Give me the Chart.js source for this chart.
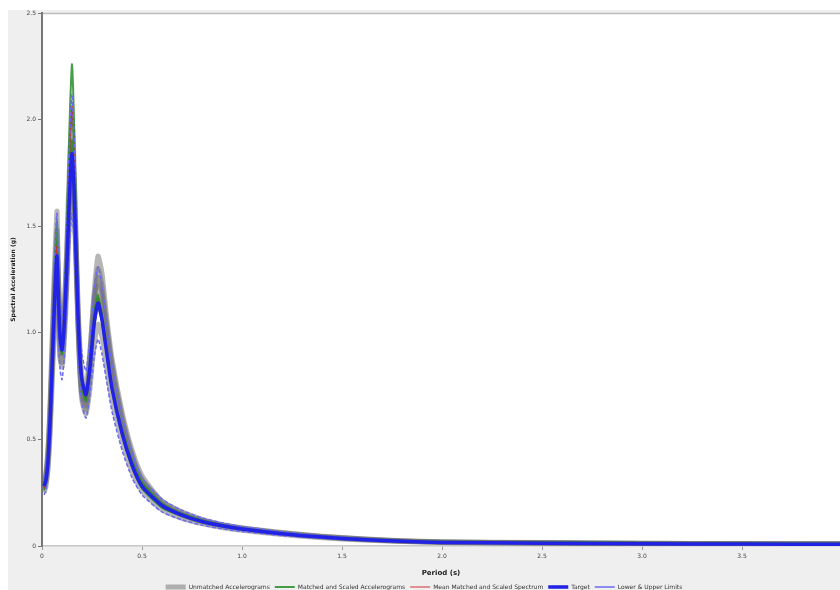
<!DOCTYPE html>
<html>
<head>
<meta charset="utf-8">
<script src="https://cdn.jsdelivr.net/npm/chart.js@4.4.1/dist/chart.umd.min.js"></script>
<style>
  html, body { margin: 0; padding: 0; background: #ffffff; overflow: hidden; }
  #wrap { width: 840px; height: 600px; position: relative; }
</style>
</head>
<body>
<div id="wrap"><canvas id="spectraChart"></canvas></div>
<script>
// periods (s)
const periods = [0.01, 0.02, 0.03, 0.04, 0.05, 0.06, 0.07, 0.075, 0.08, 0.09,
  0.10, 0.11, 0.12, 0.13, 0.14, 0.15, 0.16, 0.17, 0.18, 0.19, 0.20,
  0.22, 0.24, 0.26, 0.28, 0.30, 0.32, 0.35, 0.40, 0.45, 0.50,
  0.60, 0.70, 0.80, 0.90, 1.00, 1.20, 1.40, 1.60, 1.80, 2.00, 2.50, 3.00, 3.50, 4.00];

// unmatched accelerograms (g)
const unmatched1 = [0.30, 0.35, 0.46, 0.66, 0.95, 1.25, 1.48, 1.57, 1.35, 1.05, 0.96, 1.08, 1.30, 1.58, 1.85, 2.00, 1.80, 1.45, 1.10, 0.85, 0.72, 0.66, 0.90, 1.18, 1.36, 1.28, 1.10, 0.88, 0.63, 0.45, 0.33, 0.21, 0.16, 0.125, 0.10, 0.085, 0.062, 0.045, 0.033, 0.024, 0.019, 0.015, 0.013, 0.011, 0.010];
const unmatched2 = [0.25, 0.28, 0.36, 0.52, 0.74, 0.98, 1.18, 1.24, 1.10, 0.88, 0.84, 0.94, 1.12, 1.36, 1.60, 1.75, 1.62, 1.32, 1.02, 0.80, 0.68, 0.62, 0.74, 0.94, 1.04, 0.98, 0.86, 0.69, 0.50, 0.35, 0.26, 0.17, 0.13, 0.105, 0.087, 0.074, 0.054, 0.039, 0.028, 0.021, 0.016, 0.013, 0.011, 0.009, 0.008];
const unmatched3 = [0.28, 0.32, 0.42, 0.61, 0.86, 1.12, 1.34, 1.40, 1.28, 1.05, 1.00, 1.10, 1.28, 1.52, 1.76, 1.90, 1.74, 1.44, 1.14, 0.92, 0.80, 0.74, 0.92, 1.16, 1.26, 1.18, 1.04, 0.84, 0.59, 0.42, 0.31, 0.21, 0.155, 0.12, 0.10, 0.085, 0.063, 0.046, 0.034, 0.025, 0.020, 0.016, 0.013, 0.011, 0.010];
const unmatched4 = [0.27, 0.30, 0.38, 0.55, 0.80, 1.04, 1.25, 1.32, 1.15, 0.90, 0.86, 0.98, 1.20, 1.46, 1.72, 1.86, 1.70, 1.38, 1.05, 0.82, 0.70, 0.64, 0.82, 1.08, 1.22, 1.14, 0.98, 0.77, 0.55, 0.39, 0.29, 0.19, 0.145, 0.115, 0.094, 0.080, 0.058, 0.042, 0.030, 0.022, 0.018, 0.014, 0.012, 0.010, 0.009];
const unmatched5 = [0.29, 0.34, 0.44, 0.63, 0.90, 1.18, 1.40, 1.48, 1.32, 1.00, 0.90, 1.00, 1.18, 1.42, 1.68, 1.82, 1.66, 1.36, 1.06, 0.84, 0.72, 0.68, 0.86, 1.12, 1.30, 1.22, 1.06, 0.85, 0.61, 0.43, 0.31, 0.20, 0.15, 0.12, 0.098, 0.082, 0.060, 0.044, 0.032, 0.023, 0.018, 0.015, 0.012, 0.010, 0.009];

// matched and scaled accelerograms (g)
const matched1 = [0.27, 0.30, 0.41, 0.60, 0.86, 1.12, 1.36, 1.42, 1.20, 0.95, 0.90, 1.05, 1.35, 1.70, 2.05, 2.26, 2.00, 1.55, 1.15, 0.90, 0.78, 0.70, 0.84, 1.06, 1.16, 1.08, 0.94, 0.74, 0.54, 0.39, 0.29, 0.19, 0.15, 0.12, 0.10, 0.082, 0.060, 0.044, 0.032, 0.024, 0.019, 0.016, 0.014, 0.012, 0.010];
const matched2 = [0.29, 0.33, 0.43, 0.62, 0.88, 1.18, 1.45, 1.52, 1.30, 1.02, 0.95, 1.00, 1.25, 1.55, 1.88, 2.05, 1.85, 1.45, 1.10, 0.86, 0.74, 0.68, 0.86, 1.08, 1.18, 1.08, 0.95, 0.75, 0.55, 0.40, 0.30, 0.20, 0.15, 0.12, 0.098, 0.083, 0.061, 0.045, 0.033, 0.025, 0.020, 0.017, 0.015, 0.013, 0.011];
const matched3 = [0.26, 0.30, 0.38, 0.55, 0.78, 1.02, 1.22, 1.28, 1.15, 0.95, 0.92, 1.03, 1.20, 1.45, 1.72, 1.90, 1.75, 1.42, 1.10, 0.88, 0.76, 0.72, 0.82, 1.02, 1.12, 1.05, 0.92, 0.74, 0.53, 0.37, 0.27, 0.18, 0.14, 0.11, 0.092, 0.078, 0.057, 0.041, 0.030, 0.022, 0.018, 0.015, 0.013, 0.011, 0.010];

// mean of matched spectra (g)
const meanMatched = [0.27, 0.31, 0.41, 0.59, 0.84, 1.11, 1.34, 1.41, 1.22, 0.97, 0.92, 1.03, 1.27, 1.57, 1.88, 2.07, 1.87, 1.47, 1.12, 0.88, 0.76, 0.70, 0.84, 1.05, 1.15, 1.07, 0.94, 0.74, 0.54, 0.39, 0.29, 0.19, 0.147, 0.117, 0.097, 0.081, 0.059, 0.043, 0.032, 0.024, 0.019, 0.016, 0.014, 0.012, 0.010];

// target spectrum and its limits (g)
const target = [0.28, 0.31, 0.40, 0.58, 0.82, 1.08, 1.30, 1.36, 1.22, 0.98, 0.92, 1.02, 1.22, 1.46, 1.70, 1.84, 1.68, 1.38, 1.08, 0.88, 0.78, 0.71, 0.84, 1.04, 1.14, 1.06, 0.93, 0.74, 0.53, 0.38, 0.28, 0.19, 0.145, 0.115, 0.095, 0.080, 0.058, 0.042, 0.030, 0.022, 0.017, 0.013, 0.011, 0.009, 0.008];
const upperLimit = [0.32, 0.36, 0.46, 0.67, 0.94, 1.24, 1.50, 1.56, 1.40, 1.13, 1.06, 1.17, 1.40, 1.68, 1.96, 2.12, 1.93, 1.59, 1.24, 1.01, 0.90, 0.82, 0.97, 1.20, 1.31, 1.22, 1.07, 0.85, 0.61, 0.44, 0.32, 0.22, 0.167, 0.132, 0.109, 0.092, 0.067, 0.048, 0.035, 0.025, 0.020, 0.015, 0.013, 0.010, 0.009];
const lowerLimit = [0.24, 0.26, 0.34, 0.49, 0.70, 0.92, 1.10, 1.16, 1.04, 0.83, 0.78, 0.87, 1.04, 1.24, 1.45, 1.56, 1.43, 1.17, 0.92, 0.75, 0.66, 0.60, 0.71, 0.88, 0.97, 0.90, 0.79, 0.63, 0.45, 0.32, 0.24, 0.16, 0.123, 0.098, 0.081, 0.068, 0.049, 0.036, 0.026, 0.019, 0.014, 0.011, 0.009, 0.008, 0.007];

const xTicks = [0, 0.5, 1, 1.5, 2, 2.5, 3, 3.5];
const yTicks = [0, 0.5, 1, 1.5, 2, 2.5];

const toPoints = (vals) => vals.map((v, i) => ({ x: periods[i], y: v }));

function line(label, vals, color, width, order, extra) {
    return Object.assign({
        label: label,
        data: toPoints(vals),
        borderColor: color,
        backgroundColor: color,
        borderWidth: width,
        pointRadius: 0,
        tension: 0.2,
        fill: false,
        order: order
    }, extra || {});
}

const grayCol = "rgba(110, 110, 110, 0.5)";
const greenCol = "rgba(40, 140, 40, 0.85)";

const datasets = [
    line("Unmatched Accelerograms", unmatched1, grayCol, 5, 6),
    line("u2", unmatched2, grayCol, 5, 6, { hideLegend: true }),
    line("u3", unmatched3, grayCol, 5, 6, { hideLegend: true }),
    line("u4", unmatched4, grayCol, 5, 6, { hideLegend: true }),
    line("u5", unmatched5, grayCol, 5, 6, { hideLegend: true }),
    line("Matched and Scaled Accelerograms", matched1, greenCol, 2, 5),
    line("m2", matched2, greenCol, 2, 5, { hideLegend: true }),
    line("m3", matched3, greenCol, 2, 5, { hideLegend: true }),
    line("Mean Matched and Scaled Spectrum", meanMatched, "#d03030", 1, 4),
    line("Target", target, "#2222e6", 3.5, 2),
    line("Lower & Upper Limits", upperLimit, "#6a6af2", 1.5, 3, { borderDash: [4, 2] }),
    line("lower", lowerLimit, "#6a6af2", 1.5, 3, { borderDash: [4, 2], hideLegend: true })
];

const backdrop = {
    id: "backdrop",
    beforeDraw(chart) {
        const { ctx, chartArea: a } = chart;
        ctx.save();
        ctx.fillStyle = "#ffffff";
        ctx.fillRect(0, 0, chart.width, chart.height);
        ctx.fillStyle = "#efefef";
        ctx.fillRect(8, 10, chart.width - 8, chart.height - 10);
        ctx.fillStyle = "#ffffff";
        ctx.fillRect(a.left, a.top, a.right - a.left, a.bottom - a.top);
        ctx.strokeStyle = "#bdbdbd";
        ctx.lineWidth = 1.5;
        ctx.beginPath();
        ctx.moveTo(a.left, a.top + 0.5);
        ctx.lineTo(a.right, a.top + 0.5);
        ctx.stroke();
        ctx.restore();
    }
};

const ctx = document.getElementById("spectraChart").getContext("2d");
new Chart(ctx, {
    type: "line",
    data: { datasets: datasets },
    plugins: [backdrop],
    options: {
        responsive: true,
        maintainAspectRatio: false,
        animation: false,
        layout: { padding: { left: 8, top: 13, right: 0, bottom: 0 } },
        plugins: {
            tooltip: { enabled: false },
            legend: {
                position: "bottom",
                labels: {
                    font: { size: 6, family: "DejaVu Sans" },
                    color: "#333",
                    usePointStyle: true,
                    pointStyle: "line",
                    pointStyleWidth: 20,
                    boxWidth: 20,
                    boxHeight: 6,
                    padding: 5,
                    filter: (item, data) => !data.datasets[item.datasetIndex].hideLegend,
                    sort: (a, b) => a.datasetIndex - b.datasetIndex
                }
            }
        },
        scales: {
            x: {
                type: "linear",
                min: 0,
                max: 3.99,
                afterBuildTicks: (scale) => { scale.ticks = xTicks.map(v => ({ value: v })); },
                afterFit: (scale) => { scale.height = 33; },
                ticks: { font: { size: 6, family: "DejaVu Sans" }, color: "#444", padding: 3 },
                grid: { drawOnChartArea: false, tickLength: 4, color: "#999" },
                border: { color: "#c8c8c8", width: 1.5 },
                title: { display: true, text: "Period (s)", font: { size: 7, weight: "bold", family: "DejaVu Sans" }, color: "#222", padding: { top: 4, bottom: 2 } }
            },
            y: {
                min: 0,
                max: 2.5,
                afterBuildTicks: (scale) => { scale.ticks = yTicks.map(v => ({ value: v })); },
                afterFit: (scale) => { scale.width = 34; },
                ticks: { font: { size: 6, family: "DejaVu Sans" }, color: "#444", padding: 2 },
                grid: { drawOnChartArea: false, tickLength: 4, color: "#777" },
                border: { color: "#777", width: 2 },
                title: { display: true, text: "Spectral Acceleration (g)", font: { size: 6, weight: "bold", family: "DejaVu Sans" }, color: "#222", padding: 2 }
            }
        }
    }
});
</script>
</body>
</html>
